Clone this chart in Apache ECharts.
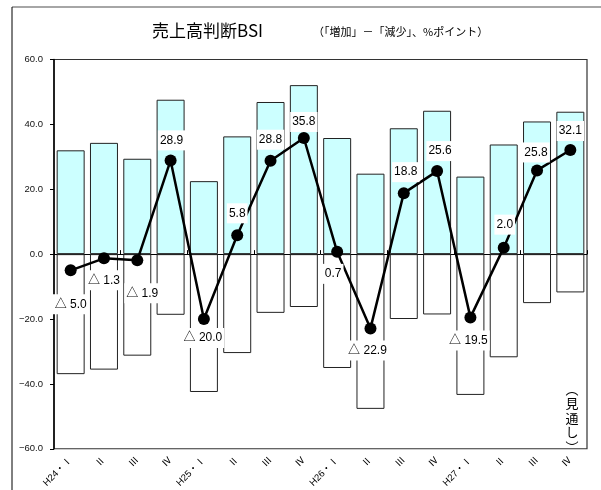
<!DOCTYPE html>
<html>
<head>
<meta charset="utf-8">
<script src="https://cdn.jsdelivr.net/npm/echarts@6/dist/echarts.min.js"></script>
<style>
  html, body { margin: 0; padding: 0; background: #fff; }
  #chart { width: 601px; height: 490px; }
</style>
</head>
<body>
<div id="chart"></div>
<script>
// Quarter labels (H24 to H27)
const quarters = ['H24・Ⅰ', 'Ⅱ', 'Ⅲ', 'Ⅳ', 'H25・Ⅰ', 'Ⅱ', 'Ⅲ', 'Ⅳ',
                  'H26・Ⅰ', 'Ⅱ', 'Ⅲ', 'Ⅳ', 'H27・Ⅰ', 'Ⅱ', 'Ⅲ', 'Ⅳ'];
// Share answering "increase" (%)
const increase = [32.0, 34.3, 29.4, 47.6, 22.5, 36.3, 46.9, 52.1,
                  35.8, 24.8, 38.8, 44.2, 23.9, 33.8, 40.9, 43.9];
// Share answering "decrease" (%)
const decrease = [37.0, 35.6, 31.3, 18.7, 42.5, 30.5, 18.1, 16.3,
                  35.1, 47.7, 20.0, 18.6, 43.4, 31.8, 15.1, 11.8];
// BSI = increase - decrease (% points)
const bsi = [-5.0, -1.3, -1.9, 28.9, -20.0, 5.8, 28.8, 35.8,
             0.7, -22.9, 18.8, 25.6, -19.5, 2.0, 25.8, 32.1];
// Value-axis ticks
const yTicks = [-60, -40, -20, 0, 20, 40, 60];

// Label placement for each BSI point, relative to the marker
const labelShift = [[0, 34], [0, 22], [5, 33], [1, -20], [-1, 19], [0, -22], [0, -21], [0, -16],
                    [-4, 22], [-3, 22], [2, -21], [3, -20], [-2, 23], [1, -23], [-1, -18], [0, -19]];

const FONT = '"Liberation Sans", Arial, "Noto Sans CJK JP", sans-serif';
const JP = '"Noto Sans CJK JP", sans-serif';

const fmt = v => v < 0 ? '△ ' + Math.abs(v).toFixed(1) : v.toFixed(1);

const chart = echarts.init(document.getElementById('chart'), null, { renderer: 'canvas' });

chart.setOption({
  animation: false,
  backgroundColor: '#fff',
  textStyle: { fontFamily: FONT },
  graphic: [
    { type: 'line', shape: { x1: 12, y1: 7, x2: 601, y2: 7 }, style: { stroke: '#888', lineWidth: 1.5 } },
    { type: 'line', shape: { x1: 12, y1: 7, x2: 12, y2: 490 }, style: { stroke: '#000', lineWidth: 1 } },
    { type: 'text', left: 152, top: 22,
      style: { text: '売上高判断BSI', font: '17px ' + JP, fill: '#000' } },
    { type: 'text', left: 313, top: 26,
      style: { text: '（「増加」－「減少」、%ポイント）', font: '11px ' + JP, fill: '#000' } },
    { type: 'text', x: 572, y: 418,
      style: { text: '︵\n見\n通\nし\n︶', font: '13px ' + JP, lineHeight: 14.5,
               align: 'center', verticalAlign: 'middle', fill: '#000' } }
  ],
  grid: {
    left: 54, right: 14, top: 59.5, bottom: 41,
    show: true, borderColor: '#333', borderWidth: 1.2, backgroundColor: 'transparent'
  },
  xAxis: [
    {
      type: 'category', data: quarters, position: 'bottom',
      axisLine: { show: false, onZero: false },
      axisTick: { show: false },
      axisLabel: { rotate: 45, fontSize: 9.5, color: '#000', margin: 10, interval: 0, fontFamily: FONT }
    },
    {
      type: 'category', data: quarters, position: 'top',
      axisLine: { show: true, onZero: true, lineStyle: { color: '#000', width: 1 } },
      axisTick: { show: true, length: 4, lineStyle: { color: '#000' } },
      axisLabel: { show: false }
    }
  ],
  yAxis: {
    type: 'value', min: yTicks[0], max: yTicks[yTicks.length - 1], interval: 20,
    axisLine: { show: true, lineStyle: { color: '#000', width: 1.5 } },
    axisTick: { show: true, length: 4, lineStyle: { color: '#000' } },
    splitLine: { show: false },
    axisLabel: { fontSize: 9.5, color: '#111', margin: 11,
                 formatter: v => (v < 0 ? '−' : '') + Math.abs(v).toFixed(1) }
  },
  series: [
    {
      name: '増加', type: 'bar', stack: 'share', data: increase,
      barCategoryGap: '16%',
      itemStyle: { color: '#CCFFFF', borderColor: '#222', borderWidth: 1 }
    },
    {
      name: '減少', type: 'bar', stack: 'share', data: decrease.map(v => -v),
      barCategoryGap: '16%',
      itemStyle: { color: '#FFFFFF', borderColor: '#222', borderWidth: 1 }
    },
    {
      name: 'BSI', type: 'line', z: 5,
      data: bsi.map((v, i) => ({
        value: v,
        label: { offset: labelShift[i] }
      })),
      symbol: 'circle', symbolSize: 12,
      lineStyle: { color: '#000', width: 2.5 },
      itemStyle: { color: '#000' },
      label: {
        show: true, position: 'inside', formatter: p => fmt(p.value),
        fontSize: 12, color: '#000', backgroundColor: '#fff', padding: [4, 2],
        fontFamily: FONT
      }
    }
  ]
});
</script>
</body>
</html>
